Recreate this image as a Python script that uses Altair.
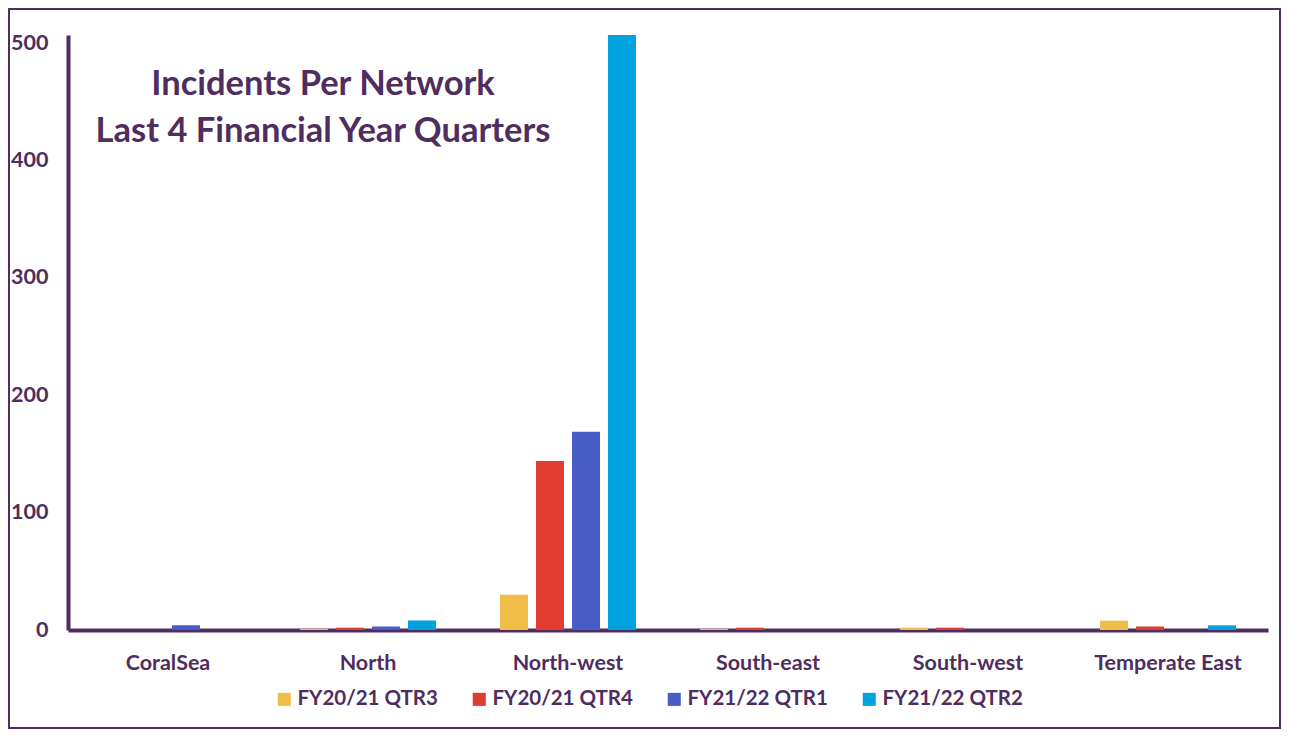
import altair as alt
import pandas as pd

networks = ["CoralSea", "North", "North-west", "South-east", "South-west", "Temperate East"]
quarters = ["FY20/21 QTR3", "FY20/21 QTR4", "FY21/22 QTR1", "FY21/22 QTR2"]
qtr3 = [0, 1, 30, 1, 2, 8]
qtr4 = [0, 2, 144, 2, 2, 3]
qtr1 = [4, 3, 169, 0, 0, 0]
qtr2 = [0, 8, 507, 0, 0, 4]
colors = ["#F0BE48", "#E03C31", "#485CC7", "#00A3E0"]
title_lines = ["Incidents Per Network", "Last 4 Financial Year Quarters"]

PURPLE = "#4F2D5F"
FONT = "Lato"

rows = []
for q, vals in zip(quarters, [qtr3, qtr4, qtr1, qtr2]):
    for n, v in zip(networks, vals):
        rows.append({"Network": n, "Quarter": q, "Incidents": v})
df = pd.DataFrame(rows)

W, H = 1200, 595

bars = alt.Chart(df).mark_bar().encode(
    x=alt.X("Network:N", sort=networks, title=None,
            scale=alt.Scale(paddingInner=0, paddingOuter=0),
            axis=alt.Axis(labelAngle=0, labelFontSize=21.5, labelFontWeight="bold",
                          labelColor=PURPLE, labelFont=FONT, ticks=False,
                          domainColor=PURPLE, domainWidth=4, labelPadding=22)),
    xOffset=alt.XOffset("Quarter:N", sort=quarters,
                        scale=alt.Scale(paddingInner=0.222, paddingOuter=0.89)),
    y=alt.Y("Incidents:Q", title=None,
            scale=alt.Scale(domain=[0, 507], nice=False),
            axis=alt.Axis(values=[0, 100, 200, 300, 400, 500], grid=False, ticks=False,
                          labelFontSize=21.5, labelFontWeight="bold", labelColor=PURPLE,
                          labelFont=FONT, domainColor=PURPLE, domainWidth=4,
                          labelPadding=20)),
    color=alt.Color("Quarter:N", sort=quarters,
                    scale=alt.Scale(domain=quarters, range=colors),
                    legend=alt.Legend(title=None, orient="none", direction="horizontal",
                                      legendX=206, legendY=654, symbolType="square",
                                      symbolSize=170, symbolStrokeWidth=0,
                                      labelFontSize=20.5, labelFontWeight="bold",
                                      labelColor=PURPLE, labelFont=FONT,
                                      columnPadding=31, symbolOffset=0, labelOffset=3)),
)

title = alt.Chart(pd.DataFrame({"t": [0]})).mark_text(
    text=title_lines, font=FONT, fontSize=34.5, fontWeight="bold", color=PURPLE,
    align="center", baseline="middle", lineHeight=47,
).encode(x=alt.value(255), y=alt.value(50))

frame = alt.Chart(pd.DataFrame({"t": [0]})).mark_rect(
    fill=None, stroke=PURPLE, strokeWidth=2,
).encode(x=alt.value(-59), x2=alt.value(W + 12), y=alt.value(-26), y2=alt.value(H + 98))

chart = alt.layer(frame, bars, title).properties(
    width=W, height=H,
    autosize=alt.AutoSizeParams(type="none"),
    padding={"left": 60, "top": 27, "right": 14, "bottom": 100},
    background="white",
).configure_view(stroke=None)

chart.save("out.html", embed_options={"renderer": "svg", "actions": False})
